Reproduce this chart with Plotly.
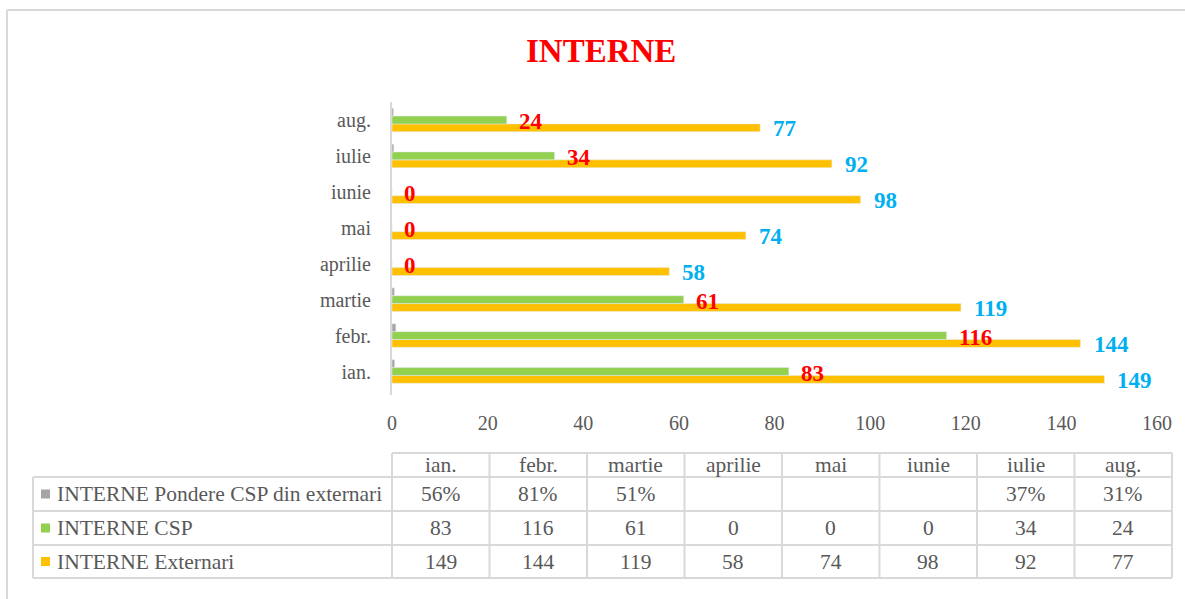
import plotly.graph_objects as go

months = ["ian.", "febr.", "martie", "aprilie", "mai", "iunie", "iulie", "aug."]
externari = [149, 144, 119, 58, 74, 98, 92, 77]
csp = [83, 116, 61, 0, 0, 0, 34, 24]
pondere = [0.56, 0.81, 0.51, None, None, None, 0.37, 0.31]
series_names = ["INTERNE Pondere CSP din externari", "INTERNE CSP", "INTERNE Externari"]
x_ticks = [0, 20, 40, 60, 80, 100, 120, 140, 160]

ORANGE = "#FFC000"
GREEN = "#92D050"
GRAY = "#A5A5A5"
TXT = "#595959"
GRID = "#D9D9D9"
FONT = "Liberation Serif"

W, H = 1185, 599
L, R, T, B = 392, 28, 102, 204
pw, ph = W - L - R, H - T - B


def xp(x):
    return (x - L) / pw


def yp(y):
    return (H - B - y) / ph


fig = go.Figure()
fig.add_trace(go.Bar(y=months, x=externari, orientation="h", marker_color=ORANGE,
                     name=series_names[2], hoverinfo="x"))
fig.add_trace(go.Bar(y=months, x=csp, orientation="h", marker_color=GREEN,
                     name=series_names[1], hoverinfo="x"))
fig.add_trace(go.Bar(y=months, x=pondere, orientation="h", marker_color=GRAY,
                     name=series_names[0], hoverinfo="x"))

annotations = []
# data labels
for m, v in zip(months, csp):
    annotations.append(dict(x=v, y=m, xref="x", yref="y", text=f"<b>{v}</b>",
                            showarrow=False, xanchor="left", yanchor="middle",
                            xshift=10, yshift=-2,
                            font=dict(family=FONT, size=23, color="#FF0000")))
for m, v in zip(months, externari):
    annotations.append(dict(x=v, y=m, xref="x", yref="y", text=f"<b>{v}</b>",
                            showarrow=False, xanchor="left", yanchor="middle",
                            xshift=11, yshift=-9,
                            font=dict(family=FONT, size=23, color="#00B0F0")))

# title
annotations.append(dict(x=xp(601), y=yp(51), xref="paper", yref="paper",
                        text="<b>INTERNE</b>", showarrow=False,
                        xanchor="center", yanchor="middle",
                        font=dict(family=FONT, size=33, color="#FF0000")))

# data table
tbl_left, tbl_x0, tbl_right = 33, 392, 1172
col_w = (tbl_right - tbl_x0) / len(months)
row_y = [453, 477, 511, 545, 578]
shapes = []
line = dict(color=GRID, width=2)
shapes.append(dict(type="line", xref="paper", yref="paper",
                   x0=xp(tbl_x0), x1=xp(tbl_right), y0=yp(row_y[0]), y1=yp(row_y[0]), line=line))
for yy in row_y[1:]:
    shapes.append(dict(type="line", xref="paper", yref="paper",
                       x0=xp(tbl_left), x1=xp(tbl_right), y0=yp(yy), y1=yp(yy), line=line))
shapes.append(dict(type="line", xref="paper", yref="paper",
                   x0=xp(tbl_left), x1=xp(tbl_left), y0=yp(row_y[1]), y1=yp(row_y[4]), line=line))
for k in range(len(months) + 1):
    xx = tbl_x0 + k * col_w
    shapes.append(dict(type="line", xref="paper", yref="paper",
                       x0=xp(xx), x1=xp(xx), y0=yp(row_y[0]), y1=yp(row_y[4]), line=line))

# outer chart border (top and left visible)
shapes.append(dict(type="line", xref="paper", yref="paper",
                   x0=xp(7), x1=xp(W + 5), y0=yp(10), y1=yp(10), line=line))
shapes.append(dict(type="line", xref="paper", yref="paper",
                   x0=xp(7), x1=xp(7), y0=yp(10), y1=yp(H + 5), line=line))

tfont = dict(family=FONT, size=21.5, color=TXT)
row_c = [(row_y[i] + row_y[i + 1]) / 2 for i in range(4)]
for k, m in enumerate(months):
    cx = tbl_x0 + (k + 0.5) * col_w
    annotations.append(dict(x=xp(cx), y=yp(row_c[0]), xref="paper", yref="paper", text=m,
                            showarrow=False, xanchor="center", yanchor="middle", font=tfont))
    pv = pondere[k]
    if pv is not None:
        annotations.append(dict(x=xp(cx), y=yp(row_c[1]), xref="paper", yref="paper",
                                text=f"{round(pv * 100)}%", showarrow=False,
                                xanchor="center", yanchor="middle", font=tfont))
    annotations.append(dict(x=xp(cx), y=yp(row_c[2]), xref="paper", yref="paper", text=str(csp[k]),
                            showarrow=False, xanchor="center", yanchor="middle", font=tfont))
    annotations.append(dict(x=xp(cx), y=yp(row_c[3]), xref="paper", yref="paper",
                            text=str(externari[k]), showarrow=False,
                            xanchor="center", yanchor="middle", font=tfont))

# legend keys in table
for i, (nm, col) in enumerate(zip(series_names, [GRAY, GREEN, ORANGE])):
    cy = row_c[i + 1]
    shapes.append(dict(type="rect", xref="paper", yref="paper",
                       x0=xp(41), x1=xp(50), y0=yp(cy - 4.5), y1=yp(cy + 4.5),
                       fillcolor=col, line=dict(width=0)))
    annotations.append(dict(x=xp(55), y=yp(cy), xref="paper", yref="paper", text=nm,
                            showarrow=False, xanchor="left", yanchor="middle", font=tfont))

fig.update_layout(
    width=W, height=H,
    margin=dict(l=L, r=R, t=T, b=B),
    paper_bgcolor="white", plot_bgcolor="white",
    barmode="group", bargap=0.345, bargroupgap=0,
    showlegend=False,
    font=dict(family=FONT, color=TXT, size=21),
    annotations=annotations, shapes=shapes,
    xaxis=dict(range=[0, 160], tickvals=x_ticks, showgrid=False, zeroline=False,
               showline=False, ticks="", tickfont=dict(family=FONT, size=20, color=TXT),
               ticklabelstandoff=14, fixedrange=True),
    yaxis=dict(showgrid=False, zeroline=False, showline=True, linecolor=GRID, linewidth=2,
               ticks="", tickfont=dict(family=FONT, size=20, color=TXT),
               ticklabelstandoff=15, fixedrange=True),
)

fig.write_html("out.html", config={"displayModeBar": False},
               post_script="document.body.style.margin='0px';document.body.style.overflow='hidden';")
